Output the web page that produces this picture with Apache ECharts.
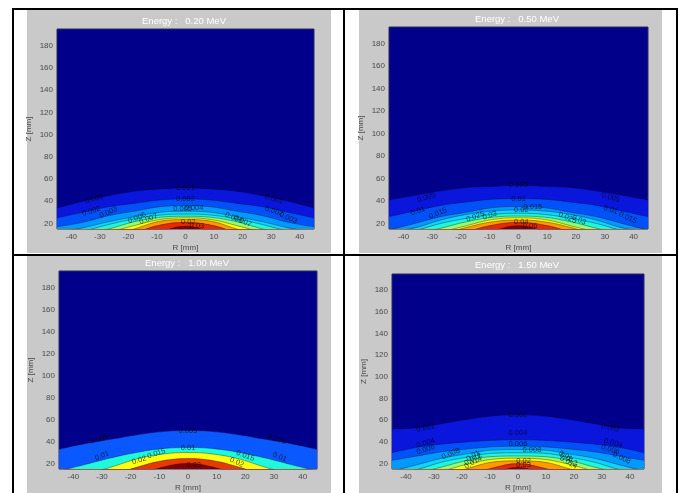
<!DOCTYPE html>
<html><head><meta charset="utf-8">
<style>
html,body{margin:0;padding:0;background:#fff;width:683px;height:493px;overflow:hidden}
#c{position:absolute;left:0;top:0;width:683px;height:493px;filter:blur(0.55px)}
.l{position:absolute;background:#000}
</style>
<script src="https://cdn.jsdelivr.net/npm/echarts@6/dist/echarts.min.js"></script>
</head><body>
<div id="c"></div>
<div class="l" style="left:12px;top:8px;width:665px;height:2px"></div>
<div class="l" style="left:12px;top:8px;width:2px;height:485px"></div>
<div class="l" style="left:343px;top:8px;width:2px;height:485px"></div>
<div class="l" style="left:676px;top:8px;width:2px;height:485px"></div>
<div class="l" style="left:12px;top:254px;width:665px;height:2px"></div>
<script>
const radii = [-45,-36,-27,-18,-9,0,9,18,27,36,45];
const xTicks = [-40,-30,-20,-10,0,10,20,30,40];
const yTicks = [20,40,60,80,100,120,140,160,180];
const titles = ['Energy :   0.20 MeV','Energy :   0.50 MeV','Energy :   1.00 MeV','Energy :   1.50 MeV'];

const bandColors10 = ['#0a16dc','#0052f8','#009aff','#10d4ff','#20f6da','#96fa70','#ffff00','#ff9a00','#e82a00','#850000'];
const bandColors5 = ['#0a58ff','#20f8dc','#ffff10','#e83a00','#840000'];

const energy020 = [
 [34,40,45,49,51,52,51,49,45,40,34],
 [25,30,35,38,41,42,41,38,35,30,25],
 [17,21,27,31,35,36,35,31,27,21,17],
 [12,16,21.5,26,30,31,30,26,21.5,16,12],
 [9,13,19,24,27.5,28.5,27.5,24,19,13,9],
 [5,10,15,21.5,25.5,26.5,25.5,21.5,15,10,5],
 [1,6,12,18,23.5,25,23.5,18,12,6,1],
 [-2,3,9,15,22,23.5,22,15,9,3,-2],
 [-6,-1,5,11.5,18.5,21,18.5,11.5,5,-1,-6],
 [-15,-10,-4,3,12,17.5,12,3,-4,-10,-15]
];
const energy050 = [
 [41,45,49,52,53,54,53,52,49,45,41],
 [26,31,36,39,41.5,42,41.5,39,36,31,26],
 [14,20,26,30,34,35,34,30,26,20,14],
 [12,16,23,28,31,32,31,28,23,16,12],
 [9,13.5,20,24.5,28,29,28,24.5,20,13.5,9],
 [5,10,15.7,21.5,25.5,26.5,25.5,21.5,15.7,10,5],
 [1,6,12,18,23.5,25,23.5,18,12,6,1],
 [-1,4,10,16.5,21.5,23,21.5,16.5,10,4,-1],
 [-5,0,6,12.5,18.5,21,18.5,12.5,6,0,-5],
 [-14,-9,-3,4,13,18,13,4,-3,-9,-14]
];
const energy100 = [
 [33,38,42,46,49,50,49,46,42,38,33],
 [13,19,25,30,33.5,34.5,33.5,30,25,19,13],
 [3,10,16.5,24,28.5,30,28.5,24,16.5,10,3],
 [-5,2,9,16.5,22.5,24.5,22.5,16.5,9,2,-5],
 [-16,-9,-2,8,16.5,20,16.5,8,-2,-9,-16]
];
const energy150 = [
 [52,53,57,61,64,65,64,61,57,53,52],
 [30,35,38,40,41.5,42,41.5,40,38,35,30],
 [23,27,31,33.5,35.5,36,35.5,33.5,31,27,23],
 [13,19,25,29,32.5,33,32.5,29,25,19,13],
 [9,14.5,21.5,26,29.5,30,29.5,26,21.5,14.5,9],
 [6,11,17,23,26.5,27,26.5,23,17,11,6],
 [2,7,13,19.5,24,25,24,19.5,13,7,2],
 [-2,3,9,15.5,21.5,22.6,21.5,15.5,9,3,-2],
 [-8,-3,3,9.5,16,20,16,9.5,3,-3,-8],
 [-18,-13,-7,-1,10,16.5,10,-1,-7,-13,-18]
];
const contourSets = [energy020,energy050,energy100,energy150];
const bandSets = [bandColors10,bandColors10,bandColors5,bandColors10];

// contour labels: R, Z, text, tilt
const labels020 = [[-32,42,'0.001',16],[0,52,'0.001',0],[31,42,'0.001',-16],[0,42,'0.002',0],[-33,31,'0.002',18],[-27,30,'0.003',24],[31,31,'0.002',-18],[36,25,'0.003',-24],[3,34,'0.004',0],[-1,33,'0.005',0],[-17,25,'0.006',22],[-13,24,'0.007',20],[17,25,'0.006',-22],[20,22,'0.007',-24],[1,21,'0.02',0],[4,18,'0.03',0]];
const labels050 = [[-32,43,'0.005',16],[0,54,'0.005',0],[32,43,'0.005',-16],[0,42,'0.01',0],[-35,31,'0.01',18],[-28,29,'0.015',22],[32,32,'0.01',-18],[38,25,'0.015',-24],[5,35,'0.015',0],[1,32,'0.02',0],[-15,26,'0.025',20],[-10,27,'0.03',18],[17,25,'0.025',-22],[21,23,'0.03',-24],[1,21,'0.04',0],[4,18,'0.06',0]];
const labels100 = [[-31,42,'0.005',16],[0,50,'0.005',0],[31,42,'0.005',-16],[0,34,'0.01',0],[-30,27,'0.01',22],[32,26,'0.01',-22],[-11,29,'0.015',18],[-17,23,'0.02',16],[20,27,'0.015',-20],[17,21,'0.02',-24],[2,19,'0.03',0]];
const labels150 = [[-33,53,'0.002',12],[0,65,'0.002',0],[33,53,'0.002',-12],[0,48,'0.004',0],[-33,39,'0.004',16],[34,39,'0.004',-16],[-33,33,'0.006',18],[33,33,'0.006',-18],[0,38,'0.006',0],[-24,29,'0.008',22],[5,33,'0.008',0],[37,25,'0.008',-24],[-16,27,'0.01',30],[-16,24,'0.012',30],[-16,21,'0.014',30],[17,27,'0.01',-30],[18,24,'0.012',-30],[18,21,'0.014',-30],[2,22,'0.02',0],[2,19,'0.03',0]];
const labelSets = [labels020,labels050,labels100,labels150];

const panels = [
 {gray:[27,10,304,243],plot:[57,29,257,200],name:24,title:[179,11]},
 {gray:[359,10,303,243],plot:[389,27,259,202],name:24,title:[512,9]},
 {gray:[27,256,304,237],plot:[59,271,258,200],name:24,title:[182,253]},
 {gray:[359,256,303,237],plot:[392,274,252,196],name:24,title:[512,255]}
];
const grayFill='#c9c9c9', tickColor='#4a4a4a';

const grids=[],xAxes=[],yAxes=[],series=[],graphics=[],titleOpts=[];
panels.forEach((p,i)=>{
  graphics.push({type:'rect',z:-10,silent:true,shape:{x:p.gray[0],y:p.gray[1],width:p.gray[2],height:p.gray[3]},style:{fill:grayFill}});
  grids.push({left:p.plot[0],top:p.plot[1],width:p.plot[2],height:p.plot[3],show:true,backgroundColor:'#00008a',borderColor:'#2a2a60',borderWidth:1,z:2});
  titleOpts.push({text:titles[i],left:p.title[0],top:p.title[1],textAlign:'center',textStyle:{color:'#ffffff',fontSize:9.5,fontWeight:'normal',fontFamily:'Liberation Sans'}});
  xAxes.push({type:'value',gridIndex:i,min:-45,max:45,name:'R [mm]',nameLocation:'middle',nameGap:15,
    nameTextStyle:{color:tickColor,fontSize:8,fontFamily:'Liberation Sans'},
    axisLine:{show:false},splitLine:{show:false},
    axisTick:{show:false,customValues:xTicks},
    axisLabel:{customValues:xTicks,color:tickColor,fontSize:8,margin:4,fontFamily:'Liberation Sans'}});
  yAxes.push({type:'value',gridIndex:i,min:15,max:195,name:'Z [mm]',nameLocation:'middle',nameGap:p.name,
    nameTextStyle:{color:tickColor,fontSize:8,fontFamily:'Liberation Sans'},
    axisLine:{show:false},splitLine:{show:false},
    axisTick:{show:false,customValues:yTicks},
    axisLabel:{customValues:yTicks,color:tickColor,fontSize:8,margin:4,fontFamily:'Liberation Sans'}});
  contourSets[i].forEach((lvl,k)=>{
    series.push({type:'line',xAxisIndex:i,yAxisIndex:i,smooth:0.4,showSymbol:false,silent:true,clip:true,animation:false,z:3,
      data:radii.map((r,j)=>[r,lvl[j]]),
      lineStyle:{color:'rgba(0,0,30,0.5)',width:0.7},
      areaStyle:{color:bandSets[i][k],opacity:1,origin:'start'}});
  });
  series.push({type:'scatter',xAxisIndex:i,yAxisIndex:i,symbolSize:0,silent:true,animation:false,z:6,
    data:labelSets[i].map(d=>({value:[d[0],d[1]],label:{show:true,position:'inside',formatter:d[2],rotate:d[3],fontSize:7.5,color:'rgba(0,0,0,0.85)',fontFamily:'Liberation Sans'}}))});
});
const chart=echarts.init(document.getElementById('c'));
chart.setOption({animation:false,backgroundColor:'#ffffff',title:titleOpts,grid:grids,xAxis:xAxes,yAxis:yAxes,series:series,graphic:graphics});
</script>
</body></html>
